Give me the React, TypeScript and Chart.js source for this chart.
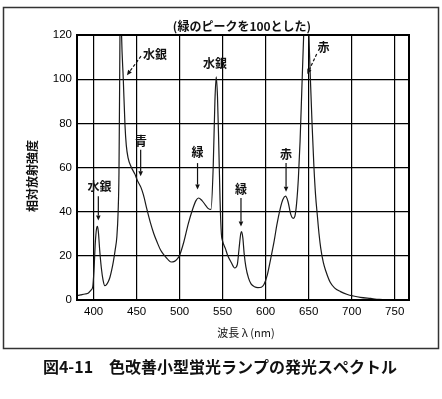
import React, { useEffect, useRef } from 'react';
import { Chart, registerables } from 'chart.js';

Chart.register(...registerables);

// Spectrum (wavelength nm -> relative intensity, green peak = 100)
const wavelengths = [
  381, 385, 390, 394, 397, 399, 400.5, 402, 403.5, 404.5, 405.5, 407, 409, 411, 413, 415, 417, 419, 421, 423,
  425, 427, 428.5, 429.5, 430.3, 431.3, 432.5, 434.5, 436.5, 438, 440, 444, 448, 451, 455, 458, 462, 466, 470, 474,
  478, 482, 486, 490, 494, 497, 500, 505, 510, 515, 519, 522, 526, 530, 533, 536.5, 539, 541, 542.5, 544,
  545.5, 547, 548.5, 550, 553, 556, 560, 564, 567, 569, 571, 572, 573.5, 575, 577, 580, 583, 587, 591, 595,
  598, 602, 606, 610, 613, 617, 620, 623, 626, 629, 632, 634, 636, 638, 640, 642, 644, 646, 648, 650,
  652, 654, 656, 658, 660, 662, 664, 667, 670, 675, 680, 687, 695, 702, 710, 722, 732, 740, 750, 767,
];
const intensity = [
  2.0, 2.3, 2.7, 3.2, 4.5, 6, 14, 26, 32.5, 33.3, 31, 23, 14.5, 9, 6.5, 7, 8.3, 10.3, 13.5, 17.5,
  22.5, 28.5, 40, 58, 100, 150, 120, 100, 79, 70, 64.5, 60, 57, 54, 51, 47.5, 41, 35, 30, 26,
  22.5, 20.3, 18.5, 17.2, 17.5, 18.5, 20.3, 26.5, 34.5, 41, 45, 46.2, 45, 43, 41.5, 41, 60, 90, 101, 92,
  70, 45, 30, 26.5, 23.5, 20, 17, 14.5, 16, 23, 30, 31, 28, 21, 15, 10, 7.3, 6, 5.6, 5.8,
  7, 11.5, 19, 27, 34, 41.5, 45.5, 47, 44.5, 39, 37, 38, 44, 55, 72, 95, 118, 140, 140, 122,
  100, 79, 61, 47.5, 38.5, 30, 23.5, 17, 13, 8, 5.5, 3.8, 2.5, 1.8, 1.2, 0.7, 0.3, 0.1, 0, 0,
];

const xTicks = [400, 450, 500, 550, 600, 650, 700, 750];
const yTicks = [0, 20, 40, 60, 80, 100, 120];

// Text annotations (data coordinates)
const noteTexts = ['水銀', '水銀', '青', '緑', '水銀', '緑', '赤', '赤'];
const noteX = [406.9, 471.4, 455.1, 520.8, 541.1, 571.3, 623.7, 667.3];
const noteY = [51.5, 111.4, 72, 66.7, 107, 50, 66, 114.4];

// Arrows (data coordinates): from -> to (arrowhead at "to")
const arrowFromX = [405.5, 455.1, 454.7, 520.8, 571.3, 623.7, 659.3];
const arrowFromY = [47, 110.4, 68, 62, 46.2, 62, 111.4];
const arrowToX = [405.5, 438.8, 454.7, 520.8, 571.3, 623.7, 648.4];
const arrowToY = [36, 101.8, 56, 50, 33.3, 49, 102.3];
const arrowDashed = [false, true, false, false, false, false, true];

const topNote = '(緑のピークを100とした)';
const xTitle = '波長 λ (nm)';
const yTitle = '相対放射強度';
const caption = '図4-11　色改善小型蛍光ランプの発光スペクトル';

const JP = '"Noto Sans CJK JP", "Noto Sans", sans-serif';
const LAT = '"Liberation Sans", Arial, sans-serif';

const decorPlugin = {
  id: 'decor',
  beforeDraw(chart: any) {
    const ctx = chart.ctx;
    ctx.save();
    ctx.fillStyle = '#ffffff';
    ctx.fillRect(0, 0, chart.width, chart.height);
    ctx.restore();
  },
  afterDraw(chart: any) {
    const ctx = chart.ctx;
    const a = chart.chartArea;
    const xs = chart.scales.x;
    const ys = chart.scales.y;
    ctx.save();

    // plot frame
    ctx.strokeStyle = '#000';
    ctx.lineWidth = 2;
    ctx.strokeRect(a.left, a.top, a.right - a.left, a.bottom - a.top);

    // outer frame
    ctx.strokeStyle = '#333';
    ctx.lineWidth = 1.5;
    ctx.strokeRect(3.5, 7.5, 435, 341);

    // annotations
    ctx.fillStyle = '#111';
    ctx.textAlign = 'center';
    ctx.textBaseline = 'middle';
    ctx.font = `bold 12px ${JP}`;
    for (let i = 0; i < noteTexts.length; i++) {
      ctx.fillText(noteTexts[i], xs.getPixelForValue(noteX[i]), ys.getPixelForValue(noteY[i]));
    }

    // arrows
    ctx.strokeStyle = '#111';
    for (let i = 0; i < arrowFromX.length; i++) {
      const x1 = xs.getPixelForValue(arrowFromX[i]);
      const y1 = ys.getPixelForValue(arrowFromY[i]);
      const x2 = xs.getPixelForValue(arrowToX[i]);
      const y2 = ys.getPixelForValue(arrowToY[i]);
      const ang = Math.atan2(y2 - y1, x2 - x1);
      const hl = 5;
      const bx = x2 - hl * Math.cos(ang);
      const by = y2 - hl * Math.sin(ang);
      ctx.lineWidth = 1.2;
      ctx.setLineDash(arrowDashed[i] ? [3, 2] : []);
      ctx.beginPath();
      ctx.moveTo(x1, y1);
      ctx.lineTo(bx, by);
      ctx.stroke();
      ctx.setLineDash([]);
      ctx.beginPath();
      ctx.moveTo(x2, y2);
      ctx.lineTo(bx + 2.3 * Math.sin(ang), by - 2.3 * Math.cos(ang));
      ctx.lineTo(bx - 2.3 * Math.sin(ang), by + 2.3 * Math.cos(ang));
      ctx.closePath();
      ctx.fill();
    }

    // top note
    ctx.font = `bold 12px ${JP}`;
    ctx.fillText(topNote, 242, a.top - 8.5);

    // x title
    ctx.font = `11px ${JP}`;
    ctx.fillText(xTitle, 246, a.bottom + 33);

    // y title
    ctx.save();
    ctx.translate(32, 176);
    ctx.rotate(-Math.PI / 2);
    ctx.font = `bold 12px ${JP}`;
    ctx.fillText(yTitle, 0, 0);
    ctx.restore();

    // caption
    ctx.font = `bold 16px ${JP}`;
    ctx.fillText(caption, 220, 367);

    ctx.restore();
  },
};

export default function App() {
  const ref = useRef<HTMLCanvasElement>(null);
  useEffect(() => {
    if (!ref.current) return;
    const points = wavelengths.map((w, i) => ({ x: w, y: intensity[i] }));
    const chart = new Chart(ref.current, {
      type: 'line',
      data: {
        datasets: [
          {
            data: points,
            borderColor: '#1a1a1a',
            borderWidth: 1.2,
            pointRadius: 0,
            fill: false,
            cubicInterpolationMode: 'monotone',
          },
        ],
      },
      options: {
        animation: false,
        responsive: false,
        devicePixelRatio: 1,
        layout: { padding: { left: 0, top: 35, right: 33, bottom: 0 } },
        plugins: { legend: { display: false }, tooltip: { enabled: false }, title: { display: false } },
        scales: {
          x: {
            type: 'linear',
            min: 380.7,
            max: 766.6,
            afterBuildTicks: (s: any) => {
              s.ticks = xTicks.map((v) => ({ value: v }));
            },
            afterFit: (s: any) => {
              s.height = 99;
            },
            grid: { color: '#000', lineWidth: 1.2, drawTicks: false },
            border: { display: true, color: '#000', width: 2 },
            ticks: { padding: 5, color: '#000', font: { family: LAT, size: 11.5 }, maxRotation: 0 },
          },
          y: {
            type: 'linear',
            min: 0,
            max: 120,
            afterBuildTicks: (s: any) => {
              s.ticks = yTicks.map((v) => ({ value: v }));
            },
            afterFit: (s: any) => {
              s.width = 77;
            },
            grid: { color: '#000', lineWidth: 1.2, drawTicks: false },
            border: { display: true, color: '#000', width: 2 },
            ticks: { padding: 5, color: '#000', font: { family: LAT, size: 11.5 } },
          },
        },
      },
      plugins: [decorPlugin],
    } as any);
    return () => chart.destroy();
  }, []);
  return (
    <div style={{ position: 'absolute', left: 0, top: 0, width: 442, height: 399, background: '#fff' }}>
      <canvas ref={ref} width={442} height={399} style={{ display: 'block', width: 442, height: 399 }} />
    </div>
  );
}
